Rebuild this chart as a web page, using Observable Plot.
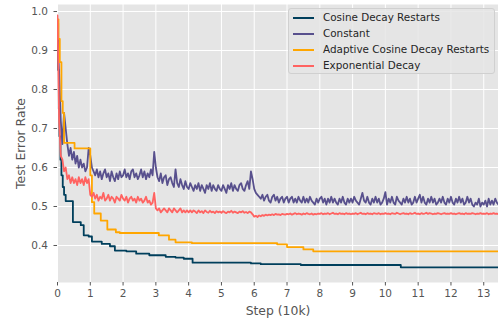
<!DOCTYPE html>
<html>
<head>
<meta charset="utf-8">
<script src="https://cdn.jsdelivr.net/npm/d3@7"></script>
<script src="https://cdn.jsdelivr.net/npm/@observablehq/plot@0.6"></script>
<style>
  html, body { margin: 0; padding: 0; background: #fff; }
  #wrap { position: relative; width: 498px; height: 320px; font-family: "DejaVu Sans", sans-serif; }
  #legend { position: absolute; left: 288px; top: 8px; width: 207px; height: 66px;
    background: rgba(229,229,229,0.85); border: 1px solid #d0d0d0; border-radius: 3px; box-sizing: border-box; }
  .item { position: absolute; left: 0; height: 16px; font-size: 10.4px; color: #262626; white-space: nowrap; }
  .sw { position: absolute; left: 4px; top: 7px; width: 21px; height: 0; border-top: 2px solid; }
  .lab { position: absolute; left: 34px; top: 1px; }
</style>
</head>
<body>
<div id="wrap"><div id="legend"></div></div>
<script>
const seriesNames = ["Cosine Decay Restarts", "Constant", "Adaptive Cosine Decay Restarts", "Exponential Decay"];
const colors = ["#003f5c", "#58508d", "#ffa600", "#ff6361"];
const xTicks = [0,1,2,3,4,5,6,7,8,9,10,11,12,13];
const yTicks = [0.4,0.5,0.6,0.7,0.8,0.9,1.0];

// step-shaped series: [step (10k), error]
const cosineSteps = [[0,0.97],[0.02,0.85],[0.04,0.75],[0.06,0.68],[0.09,0.62],[0.12,0.58],[0.16,0.55],[0.2,0.53],[0.25,0.514],[0.47,0.46],[0.71,0.452],[0.8,0.426],[0.95,0.423],[1.05,0.41],[1.35,0.404],[1.6,0.398],[1.75,0.387],[2.1,0.385],[2.4,0.379],[2.8,0.375],[3.3,0.371],[3.6,0.369],[3.85,0.366],[4.12,0.356],[5.9,0.354],[6.2,0.352],[7.42,0.35],[10.47,0.344],[13.5,0.344]];
const adaptiveSteps = [[0,0.98],[0.03,0.93],[0.07,0.87],[0.12,0.77],[0.16,0.74],[0.2,0.663],[0.52,0.649],[1.0,0.58],[1.05,0.511],[1.12,0.482],[1.32,0.464],[1.52,0.441],[1.78,0.434],[1.9,0.432],[3.09,0.426],[3.4,0.415],[3.6,0.408],[4.1,0.406],[6.7,0.403],[7.0,0.396],[7.5,0.39],[7.8,0.385],[13.5,0.385]];

// noisy series sampled every 0.05 (10k steps), one row per unit
const sampleStep = 0.05;
const constant = [
0.93,0.84,0.72,0.66,0.74,0.70,0.66,0.63,0.65,0.62,0.64,0.61,0.63,0.60,0.62,0.60,0.61,0.59,0.60,0.65,
0.63,0.60,0.59,0.58,0.595,0.575,0.59,0.57,0.585,0.595,0.575,0.585,0.565,0.59,0.575,0.565,0.585,0.57,0.59,0.575,
0.58,0.595,0.575,0.585,0.57,0.59,0.595,0.575,0.585,0.57,0.58,0.595,0.575,0.59,0.57,0.585,0.575,0.595,0.58,0.64,
0.60,0.575,0.565,0.585,0.56,0.575,0.58,0.555,0.57,0.575,0.56,0.55,0.595,0.56,0.55,0.57,0.555,0.545,0.565,0.55,
0.545,0.56,0.55,0.54,0.555,0.545,0.56,0.54,0.555,0.545,0.535,0.555,0.545,0.56,0.54,0.555,0.545,0.54,0.555,0.545,
0.54,0.555,0.545,0.535,0.555,0.545,0.56,0.54,0.555,0.545,0.54,0.555,0.56,0.545,0.54,0.555,0.565,0.545,0.59,0.57,
0.545,0.535,0.53,0.525,0.52,0.53,0.515,0.525,0.53,0.515,0.51,0.525,0.53,0.515,0.525,0.51,0.52,0.525,0.51,0.52,
0.525,0.51,0.52,0.525,0.51,0.52,0.51,0.525,0.515,0.51,0.525,0.51,0.52,0.51,0.525,0.515,0.51,0.505,0.52,0.51,
0.52,0.525,0.51,0.52,0.505,0.52,0.51,0.525,0.51,0.52,0.51,0.505,0.52,0.51,0.525,0.51,0.505,0.52,0.51,0.52,
0.51,0.525,0.515,0.51,0.505,0.52,0.535,0.515,0.51,0.525,0.51,0.505,0.52,0.51,0.525,0.51,0.52,0.505,0.51,0.52,
0.537,0.505,0.52,0.51,0.525,0.51,0.505,0.525,0.515,0.51,0.505,0.52,0.51,0.525,0.51,0.52,0.505,0.51,0.525,0.51,
0.52,0.53,0.51,0.525,0.51,0.505,0.52,0.51,0.525,0.51,0.52,0.505,0.51,0.52,0.51,0.525,0.51,0.505,0.52,0.51,
0.525,0.51,0.505,0.52,0.51,0.525,0.51,0.52,0.505,0.51,0.525,0.51,0.52,0.505,0.50,0.51,0.505,0.52,0.50,0.51,
0.505,0.515,0.50,0.52,0.505,0.515,0.505,0.52,0.51,0.505,0.515
];
const exponential = [
0.99,0.72,0.63,0.62,0.59,0.60,0.57,0.58,0.56,0.575,0.56,0.57,0.555,0.575,0.56,0.57,0.555,0.575,0.56,0.57,
0.53,0.525,0.535,0.52,0.53,0.515,0.525,0.52,0.535,0.515,0.52,0.53,0.515,0.525,0.52,0.51,0.525,0.52,0.515,0.53,
0.52,0.515,0.525,0.51,0.52,0.525,0.515,0.52,0.51,0.525,0.515,0.52,0.51,0.515,0.525,0.51,0.515,0.505,0.51,0.535,
0.495,0.49,0.495,0.485,0.49,0.495,0.49,0.485,0.495,0.49,0.485,0.495,0.49,0.485,0.49,0.495,0.485,0.49,0.485,0.49,
0.485,0.49,0.485,0.49,0.487,0.483,0.49,0.485,0.488,0.483,0.49,0.486,0.484,0.489,0.485,0.487,0.483,0.488,0.485,0.487,
0.484,0.488,0.485,0.483,0.487,0.485,0.489,0.484,0.487,0.485,0.483,0.487,0.485,0.488,0.484,0.486,0.483,0.487,0.485,0.48,
0.474,0.476,0.473,0.477,0.475,0.478,0.476,0.479,0.477,0.479,0.478,0.48,0.478,0.481,0.479,0.48,0.478,0.481,0.48,0.479,
0.481,0.48,0.482,0.479,0.481,0.483,0.48,0.482,0.481,0.479,0.482,0.48,0.483,0.481,0.48,0.482,0.479,0.481,0.48,0.482,
0.481,0.483,0.48,0.482,0.481,0.483,0.48,0.482,0.484,0.481,0.482,0.48,0.483,0.481,0.482,0.48,0.483,0.481,0.482,0.48,
0.482,0.481,0.483,0.48,0.482,0.484,0.481,0.482,0.48,0.483,0.481,0.482,0.48,0.483,0.482,0.481,0.483,0.48,0.482,0.481,
0.483,0.481,0.482,0.48,0.483,0.482,0.481,0.484,0.482,0.48,0.482,0.483,0.481,0.482,0.48,0.483,0.481,0.482,0.484,0.481,
0.482,0.48,0.483,0.481,0.482,0.484,0.481,0.483,0.482,0.48,0.482,0.481,0.483,0.482,0.48,0.482,0.483,0.481,0.482,0.481,
0.483,0.481,0.482,0.48,0.482,0.483,0.481,0.482,0.48,0.483,0.481,0.482,0.481,0.483,0.482,0.48,0.482,0.481,0.483,0.481,
0.482,0.481,0.483,0.48,0.482,0.481,0.483,0.481,0.482,0.48,0.482
];

const stepRows = (arr, name) => arr.map(([x, y]) => ({x, y, series: name}));
const noisyRows = (arr, name) => arr.map((y, i) => ({x: i * sampleStep, y, series: name}));

const data = {
  cosine: stepRows(cosineSteps, seriesNames[0]),
  constant: noisyRows(constant, seriesNames[1]),
  adaptive: stepRows(adaptiveSteps, seriesNames[2]),
  exponential: noisyRows(exponential, seriesNames[3])
};

const tickColor = "#555";
const chart = Plot.plot({
  width: 498,
  height: 320,
  marginLeft: 57,
  marginRight: 0,
  marginTop: 4,
  marginBottom: 38,
  style: { fontFamily: "DejaVu Sans, sans-serif", fontSize: "10px", color: tickColor, background: "transparent" },
  x: { domain: [0, 13.45] },
  y: { domain: [0.3051, 1.018] },
  marks: [
    Plot.frame({ fill: "#e5e5e5", stroke: "none" }),
    Plot.gridX(xTicks, { stroke: "#fff", strokeOpacity: 1, strokeWidth: 1 }),
    Plot.gridY(yTicks, { stroke: "#fff", strokeOpacity: 1, strokeWidth: 1 }),
    Plot.line(data.cosine, { x: "x", y: "y", stroke: colors[0], strokeWidth: 1.8, curve: "step-after", clip: true }),
    Plot.line(data.constant, { x: "x", y: "y", stroke: colors[1], strokeWidth: 1.8, clip: true }),
    Plot.line(data.adaptive, { x: "x", y: "y", stroke: colors[2], strokeWidth: 1.8, curve: "step-after", clip: true }),
    Plot.line(data.exponential, { x: "x", y: "y", stroke: colors[3], strokeWidth: 1.8, clip: true }),
    Plot.axisX(xTicks, { tickSize: 3.5, tickPadding: 3.5, stroke: tickColor, fill: tickColor, fontSize: 10.5, label: null }),
    Plot.axisY(yTicks, { tickSize: 3.5, tickPadding: 6, stroke: tickColor, fill: tickColor, fontSize: 10.5, tickFormat: d3.format(".1f"), label: null }),
    Plot.text(["Step (10k)"], { frameAnchor: "bottom", lineAnchor: "bottom", dy: 32, fill: tickColor, fontSize: 12.4 }),
    Plot.text(["Test Error Rate"], { frameAnchor: "left", textAnchor: "middle", dx: -36, rotate: -90, fill: tickColor, fontSize: 12.4 })
  ]
});
document.getElementById("wrap").prepend(chart);

const legend = d3.select("#legend");
seriesNames.forEach((name, i) => {
  const item = legend.append("div").attr("class", "item").style("top", (1 + i * 16) + "px");
  item.append("div").attr("class", "sw").style("border-top-color", colors[i]);
  item.append("div").attr("class", "lab").text(name);
});
</script>
</body>
</html>
